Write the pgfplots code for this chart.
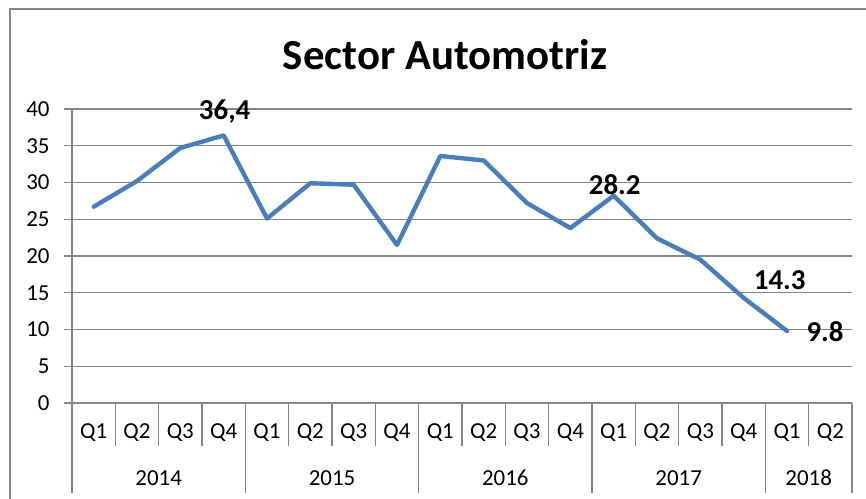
\documentclass[border=0pt]{standalone}
\usepackage{pgfplots}
\pgfplotsset{compat=1.18}
\usepackage{fontspec}
\setmainfont{Carlito}
\definecolor{gridgray}{HTML}{868686}
\definecolor{lineblue}{HTML}{4A7EBB}
\newcommand{\tickfont}{\fontsize{23}{27}\selectfont}
\newcommand{\labfont}{\fontsize{29}{34}\selectfont\bfseries}
\newcommand{\ql}[2]{\node[font=\tickfont] at (axis cs:#1,0) [yshift=-30bp] {#2};}
\begin{document}
\begin{tikzpicture}[x=1bp,y=1bp]
\useasboundingbox (0,0) rectangle (866,499);
\draw[gridgray, line width=1.2bp] (10,-5) -- (10,490) -- (870,490);
\node[font=\fontsize{43}{50}\selectfont\bfseries] at (445,444) {Sector Automotriz};
\begin{axis}[
  at={(72bp,96bp)}, anchor=south west,
  scale only axis, width=780bp, height=294bp,
  xmin=-0.5, xmax=17.5, ymin=0, ymax=40,
  ytick={0,5,...,40}, xtick=\empty,
  ymajorgrids, grid style={gridgray, line width=1.3bp},
  axis x line*=bottom, axis y line*=left,
  axis line style={gridgray, line width=1.3bp, -},
  tick style={gridgray, line width=1.3bp},
  tick align=outside, major tick length=8bp,
  yticklabel style={font=\tickfont, text=black, xshift=-11bp},
  /pgf/number format/assume math mode=true,
  clip=false,
]
\addplot[lineblue, line width=4.4bp, line join=round, line cap=round] coordinates {
(0,26.7) (1,30.2) (2,34.7) (3,36.4)
(4,25.1) (5,29.9) (6,29.7) (7,21.5)
(8,33.6) (9,33.0) (10,27.2) (11,23.8)
(12,28.2) (13,22.4) (14,19.5) (15,14.3)
(16,9.8)
};
\pgfplotsinvokeforeach{-0.5,0.5,1.5,2.5,3.5,4.5,5.5,6.5,7.5,8.5,9.5,10.5,11.5,12.5,13.5,14.5,15.5,16.5,17.5}{
  \draw[gridgray, line width=1.3bp] (axis cs:#1,0) -- ([yshift=-43bp]axis cs:#1,0);
}
\pgfplotsinvokeforeach{-0.5,3.5,7.5,11.5,15.5,17.5}{
  \draw[gridgray, line width=1.3bp] (axis cs:#1,0) -- ([yshift=-90bp]axis cs:#1,0);
}
\ql{0}{Q1}\ql{1}{Q2}\ql{2}{Q3}\ql{3}{Q4}
\ql{4}{Q1}\ql{5}{Q2}\ql{6}{Q3}\ql{7}{Q4}
\ql{8}{Q1}\ql{9}{Q2}\ql{10}{Q3}\ql{11}{Q4}
\ql{12}{Q1}\ql{13}{Q2}\ql{14}{Q3}\ql{15}{Q4}
\ql{16}{Q1}\ql{17}{Q2}
\node[font=\tickfont] at (axis cs:1.5,0) [yshift=-75bp] {2014};
\node[font=\tickfont] at (axis cs:5.5,0) [yshift=-75bp] {2015};
\node[font=\tickfont] at (axis cs:9.5,0) [yshift=-75bp] {2016};
\node[font=\tickfont] at (axis cs:13.5,0) [yshift=-75bp] {2017};
\node[font=\tickfont] at (axis cs:16.5,0) [yshift=-75bp] {2018};
\node[font=\labfont] at (axis cs:3,36.4) [yshift=24bp, xshift=1bp] {36,4};
\node[font=\labfont] at (axis cs:12,28.2) [yshift=11bp, xshift=1bp] {28.2};
\node[font=\labfont] at (axis cs:15,14.3) [yshift=18bp, xshift=36bp] {14.3};
\node[font=\labfont] at (axis cs:16,9.8) [yshift=-1bp, xshift=38bp] {9.8};
\end{axis}
\end{tikzpicture}
\end{document}
